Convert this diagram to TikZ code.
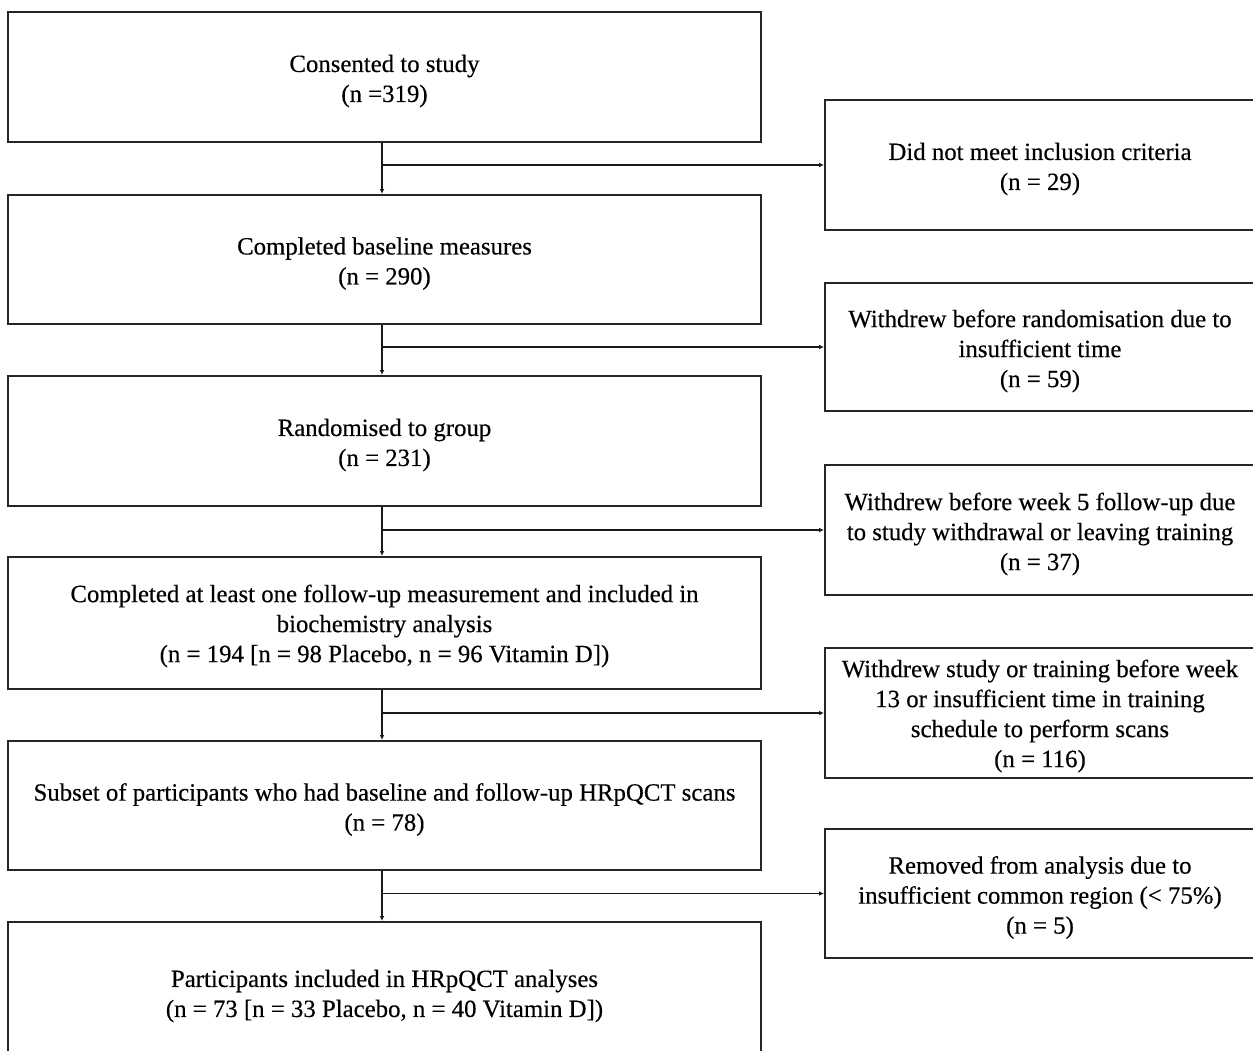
\documentclass[tikz,border=0pt]{standalone}
\usepackage{fontspec}
\setmainfont[FakeBold=0.35]{Liberation Serif}
\usetikzlibrary{arrows.meta}
\tikzset{
  box/.style={draw=black!85, line width=1.8pt, fill=white, inner sep=0pt},
  lbox/.style={box, minimum width=753pt},
  rbox/.style={box, minimum width=430pt},
  txt/.style={inner sep=0pt, align=center, font=\fontsize{24.8}{30}\selectfont},
  arr/.style={draw=black!90, line width=1.4pt, -{Latex[length=5pt,width=4.5pt]}}
}
\begin{document}
\begin{tikzpicture}[x=1pt,y=-1pt]
\useasboundingbox (0,0) rectangle (1253,1050);
\fill[white] (0,0) rectangle (1253,1050);
\clip (0,0) rectangle (1253,1050);
% left column boxes
\node[lbox, minimum height=130pt] (l1) at (384.5,77) {};
\node[lbox, minimum height=129pt] (l2) at (384.5,259.5) {};
\node[lbox, minimum height=130pt] (l3) at (384.5,441) {};
\node[lbox, minimum height=132pt] (l4) at (384.5,623) {};
\node[lbox, minimum height=129pt] (l5) at (384.5,805.5) {};
\node[lbox, minimum height=140pt] (l6) at (384.5,992) {};
% right column boxes
\node[rbox, minimum height=130pt] (r1) at (1040,165) {};
\node[rbox, minimum height=128pt] (r2) at (1040,347) {};
\node[rbox, minimum height=130pt] (r3) at (1040,530) {};
\node[rbox, minimum height=130pt] (r4) at (1040,713) {};
\node[rbox, minimum height=129pt] (r5) at (1040,893.5) {};
% texts
\node[txt] (l1t) at ([yshift=-4pt]l1.center) {Consented to study\\(n =319)};
\node[txt] (l2t) at ([yshift=-4pt]l2.center) {Completed baseline measures\\(n = 290)};
\node[txt] (l3t) at ([yshift=-4pt]l3.center) {Randomised to group\\(n = 231)};
\node[txt] (l4t) at ([yshift=-3pt]l4.center) {Completed at least one follow-up measurement and included in\\biochemistry analysis\\(n = 194 [n = 98 Placebo, n = 96 Vitamin D])};
\node[txt] (l5t) at ([yshift=-4pt]l5.center) {Subset of participants who had baseline and follow-up HRpQCT scans\\(n = 78)};
\node[txt] (l6t) at ([yshift=-4pt]l6.center) {Participants included in HRpQCT analyses\\(n = 73 [n = 33 Placebo, n = 40 Vitamin D])};
\node[txt] (r1t) at ([yshift=-4pt]r1.center) {Did not meet inclusion criteria\\(n = 29)};
\node[txt] (r2t) at ([yshift=-4pt]r2.center) {Withdrew before randomisation due to\\insufficient time\\(n = 59)};
\node[txt] (r3t) at ([yshift=-4pt]r3.center) {Withdrew before week 5 follow-up due\\to study withdrawal or leaving training\\(n = 37)};
\node[txt] (r4t) at ([yshift=-3pt]r4.center) {Withdrew study or training before week\\13 or insufficient time in training\\schedule to perform scans\\(n = 116)};
\node[txt] (r5t) at ([yshift=-4pt]r5.center) {Removed from analysis due to\\insufficient common region (< 75\%)\\(n = 5)};
% connectors
\foreach \a/\b/\r in {l1/l2/r1, l2/l3/r2, l3/l4/r3, l4/l5/r4, l5/l6/r5}{
  \draw[arr] ([xshift=-2.5pt]\a.south) -- ([xshift=-2.5pt]\b.north);
  \draw[arr] ([xshift=-2.5pt]\a.south |- \r.west) -- (\r.west);
}
\end{tikzpicture}
\end{document}
